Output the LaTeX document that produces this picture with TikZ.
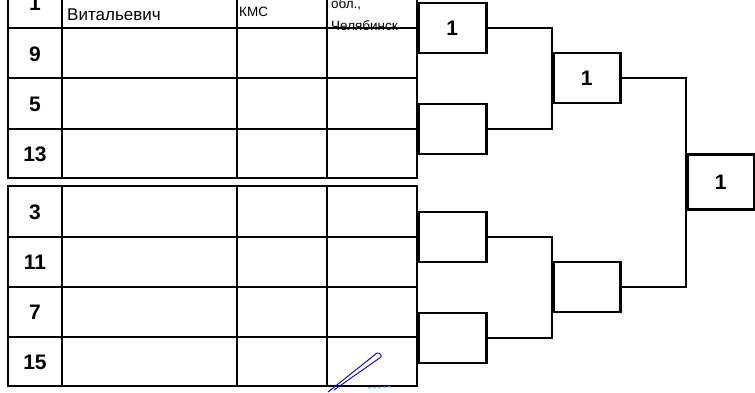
\documentclass[tikz,border=0pt]{standalone}
\usepackage{fontspec}
\setmainfont{Liberation Sans}
\usetikzlibrary{positioning}

\begin{document}
\begin{tikzpicture}[
  x=1pt, y=-1pt,
  thick line/.style={line width=2.8pt},
  thin line/.style={line width=1.7pt},
  seat/.style={font=\fontsize{21}{21}\selectfont\bfseries, inner sep=0pt},
  entry/.style={anchor=west, inner sep=0pt},
  slot/.style={draw, line width=2.6pt, minimum width=68pt, minimum height=50pt, inner sep=0pt, anchor=west,
    font=\fontsize{21}{21}\selectfont\bfseries},
  link/.style={line width=2.6pt}
]
\useasboundingbox (0,0) rectangle (755,392);
\clip (0,0) rectangle (755,392);

% upper block of the table
\draw[thin line] (8,28) -- (417,28);
\draw[thick line] (8,78) -- (417,78);
\draw[thin line] (8,129) -- (417,129);
\draw[thick line] (8,-30) rectangle (417,178);
% lower block of the table
\draw[thin line] (8,237) -- (417,237);
\draw[thick line] (8,287) -- (417,287);
\draw[thin line] (8,337) -- (417,337);
\draw[thick line] (8,186) rectangle (417,386);
% columns
\foreach \x in {62,237,327} {
  \draw[thick line] (\x,-30) -- (\x,178);
  \draw[thick line] (\x,186) -- (\x,386);
}

% seed numbers
\node[seat] (s1) at (35,3.5) {1};
\node[seat] (s9) at (35,54) {9};
\node[seat] (s5) at (35,104) {5};
\node[seat] (s13) at (35,154) {13};
\node[seat] (s3) at (35,212) {3};
\node[seat] (s11) at (35,262) {11};
\node[seat] (s7) at (35,312) {7};
\node[seat] (s15) at (35,362) {15};

% first entry
\node[entry, font=\fontsize{17}{17}\selectfont] (name) at (67,15) {Витальевич};
\node[entry, font=\fontsize{13.5}{13.5}\selectfont] (rank) at (239,12) {КМС};
\node[entry, font=\fontsize{13.5}{13.5}\selectfont] (town) at (331,4) {обл.,};
\node[entry, font=\fontsize{13.5}{13.5}\selectfont] (city) at (331,26) {Челябинск};

% bracket
\node[slot] (q1) at (417,28) {1};
\node[slot] (q2) at (417,129) {};
\node[slot] (q3) at (417,237) {};
\node[slot] (q4) at (417,338) {};
\node[slot, minimum width=67pt] (h1) at (552,78) {1};
\node[slot, minimum width=67pt] (h2) at (552,287) {};
\node[slot, minimum width=67pt, minimum height=55pt] (fin) at (686,182) {1};

\draw[link] (q1.east) -| (h1.west |- q2.east) -- (q2.east);
\draw[link] (q3.east) -| (h2.west |- q4.east) -- (q4.east);
\draw[link] (h1.east) -| (fin.west |- h2.east) -- (h2.east);

% signature
\draw[blue!70!black, line width=0.9pt, line join=round]
  (328,392) -- (377,353) to[out=20,in=60] (381,357) -- (334,390);
\draw[cyan!50, line width=1.5pt, dash pattern=on 3pt off 2pt] (368,388) -- (392,387);
\end{tikzpicture}
\end{document}
